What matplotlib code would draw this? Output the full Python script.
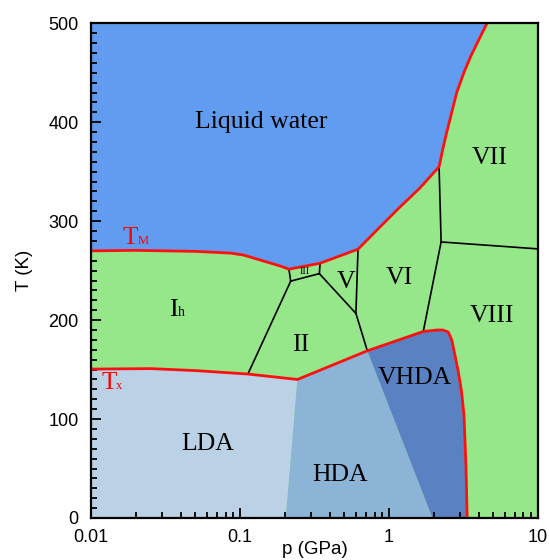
import matplotlib
matplotlib.use("Agg")
import matplotlib.pyplot as plt
from matplotlib.ticker import FixedLocator, NullFormatter

# melting curve T_M (liquid / crystalline)
melt_p = [0.01, 0.02, 0.05, 0.087, 0.106, 0.188, 0.213, 0.345, 0.62, 0.83,
          1.18, 1.6, 2.17, 2.30, 2.43, 2.59, 2.85, 3.2, 3.55, 3.94, 4.55]
melt_T = [270, 270.5, 269.5, 267.7, 265.7, 254.5, 251.5, 257.5, 271.7, 291,
          314, 333, 355, 373, 388.6, 405, 430, 451, 467, 481, 500]

# crystallisation curve T_x (crystalline / amorphous)
tx_p = [0.01, 0.025, 0.05, 0.113, 0.243, 0.716, 1.70, 2.10, 2.30, 2.50,
        2.64, 2.77, 2.92, 3.07, 3.19, 3.29, 3.35]
tx_T = [150.5, 151, 149, 145.5, 140, 169, 188.5, 190, 190, 188,
        180, 165, 148, 128, 104, 52, 0]

# amorphous boundaries
lda_hda_p = [0.243, 0.203]
lda_hda_T = [140, 0]
hda_vhda_p = [0.716, 1.96]
hda_vhda_T = [169, 0]

# crystalline phase boundaries (black)
boundaries = {
    "Ih-II": ([0.113, 0.219], [145.5, 239.4]),
    "Ih-III": ([0.219, 0.213], [239.4, 251.5]),
    "II-III": ([0.219, 0.341], [239.4, 247]),
    "III-V": ([0.341, 0.345], [247, 257.5]),
    "II-V": ([0.341, 0.60], [247, 206.8]),
    "V-VI": ([0.60, 0.62], [206.8, 271.7]),
    "II-VI": ([0.60, 0.716], [206.8, 169]),
    "VI-VIII": ([1.70, 2.24], [188.5, 279]),
    "VI-VII": ([2.24, 2.17], [279, 355]),
    "VII-VIII": ([2.24, 10], [279, 272]),
}

labels = [("Liquid water", 0.138, 400), ("VII", 4.71, 364), ("V", 0.516, 239),
          ("VI", 1.18, 243), ("VIII", 4.93, 204), ("II", 0.255, 175),
          ("VHDA", 1.49, 141), ("LDA", 0.061, 75), ("HDA", 0.471, 43)]

c_liquid = "#629cf0"
c_ice = "#95e78a"
c_lda = "#bbd2e6"
c_hda = "#8cb4d6"
c_vhda = "#5a82c3"

fig = plt.figure(figsize=(5.49, 5.60), dpi=100)
ax = fig.add_axes([0.1658, 0.075, 0.814, 0.8834])
ax.set_xscale("log")
ax.set_xlim(0.01, 10)
ax.set_ylim(0, 500)
ax.set_facecolor(c_ice)

# liquid region
ax.fill(melt_p + [0.01], melt_T + [500], color=c_liquid, lw=0)

# amorphous regions
i_lda = tx_p.index(lda_hda_p[0])
i_hda = tx_p.index(hda_vhda_p[0])
ax.fill(tx_p[:i_lda + 1] + [lda_hda_p[1], 0.01],
        tx_T[:i_lda + 1] + [0, 0], color=c_lda, lw=0)
ax.fill(tx_p[i_lda:i_hda + 1] + [hda_vhda_p[1], lda_hda_p[1]],
        tx_T[i_lda:i_hda + 1] + [0, 0], color=c_hda, lw=0)
ax.fill(tx_p[i_hda:] + [hda_vhda_p[1]],
        tx_T[i_hda:] + [0], color=c_vhda, lw=0)

for bp, bT in boundaries.values():
    ax.plot(bp, bT, color="black", lw=1.2)

ax.plot(melt_p, melt_T, color="#ff1010", lw=2, solid_joinstyle="round")
ax.plot(tx_p, tx_T, color="#ff1010", lw=2, solid_joinstyle="round")

serif = "Liberation Serif"
for txt, p, T in labels:
    ax.text(p, T, txt, family=serif, fontsize=18.5, ha="center", va="center")

# labels with small subscripts
def sub_label(main, sub, p, T, color, size, subsize):
    ax.text(p, T, main, family=serif, fontsize=size, color=color,
            ha="right", va="baseline")
    ax.text(p, T, sub, family=serif, fontsize=subsize, color=color,
            ha="left", va="baseline")

sub_label("I", "h", 0.0385, 204, "black", 19, 10)
sub_label("T", "M", 0.0205, 277, "red", 18, 9)
sub_label("T", "x", 0.0148, 130, "red", 18, 9)
ax.text(0.272, 249, "III", family=serif, fontsize=7.5, ha="center", va="center")

# axes styling
for s in ax.spines.values():
    s.set_linewidth(1.6)
ax.xaxis.set_major_locator(FixedLocator([0.01, 0.1, 1, 10]))
ax.set_xticklabels(["0.01", "0.1", "1", "10"])
ax.xaxis.set_minor_locator(FixedLocator(
    [m * 10.0 ** e for e in (-2, -1, 0) for m in range(2, 10)]))
ax.xaxis.set_minor_formatter(NullFormatter())
ax.set_yticks(range(0, 501, 100))
ax.set_yticks(range(0, 501, 10), minor=True)
ax.tick_params(which="both", direction="in", top=False, right=False,
               width=1.3, labelsize=13)
ax.tick_params(which="major", length=7)
ax.tick_params(which="minor", length=4)
ax.tick_params(axis="x", which="major", pad=8)
ax.tick_params(axis="y", which="major", pad=9)
for t in ax.get_xticklabels() + ax.get_yticklabels():
    t.set_family("Liberation Sans")

ax.set_xlabel("p (GPa)", family="Liberation Sans", fontsize=13.5, labelpad=-4)
ax.set_ylabel("T (K)", family="Liberation Sans", fontsize=13.5, labelpad=11)

fig.savefig("out.png", dpi=100)
